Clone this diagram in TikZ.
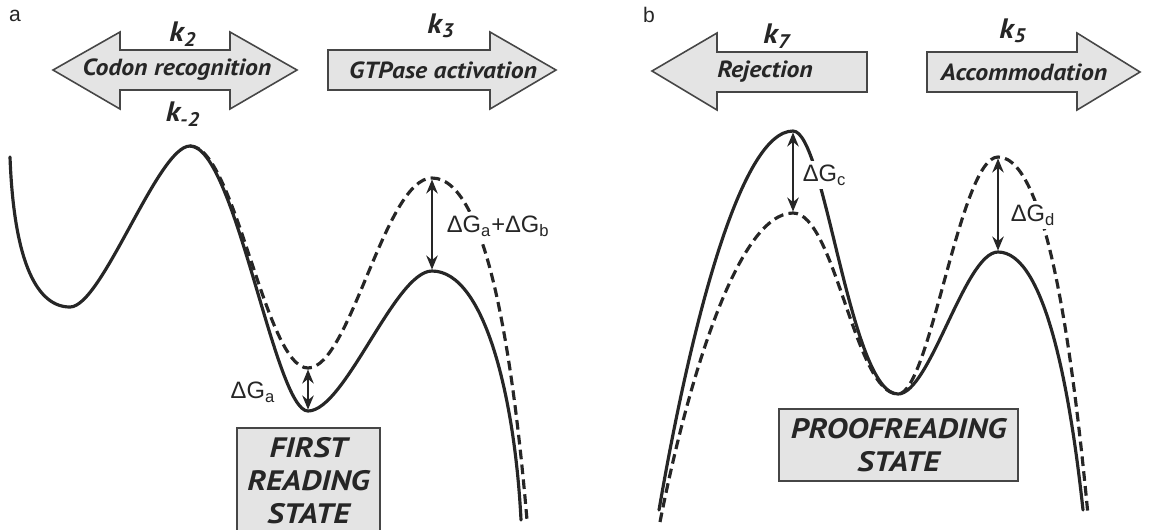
\documentclass[tikz,border=0pt]{standalone}
\usepackage{fontspec}
\setmainfont{Liberation Sans}
\newfontfamily\stepfam{PT Sans}[FakeStretch=1.1]
\newfontfamily\statefam{PT Sans}[FakeStretch=1.15]
\usetikzlibrary{arrows.meta}
\definecolor{inkgray}{RGB}{38,38,38}
\definecolor{edgegray}{RGB}{70,70,70}
\definecolor{fillgray}{RGB}{228,228,228}
\tikzset{
  energy/.style={line width=1.8pt, color=inkgray, line cap=round},
  dashenergy/.style={line width=1.8pt, color=inkgray, dash pattern=on 5.5pt off 3pt},
  bigarrow/.style={draw=edgegray, fill=fillgray, line width=0.9pt},
  steptext/.style={font=\stepfam\bfseries\itshape\fontsize{13.3}{15}\selectfont, text=inkgray},
  ratetext/.style={font=\stepfam\bfseries\itshape\fontsize{16}{18}\selectfont, text=inkgray},
  statebox/.style={rectangle, draw=edgegray, fill=fillgray, line width=1.1pt, align=center,
    font=\statefam\bfseries\itshape\fontsize{16}{18.8}\selectfont, text=inkgray},
  gaparrow/.style={{Stealth[length=8pt,width=6.5pt]}-{Stealth[length=8pt,width=6.5pt]},
    line width=1.5pt, color=inkgray, shorten >=0.8pt, shorten <=0.8pt},
  gaptext/.style={font=\fontsize{13.5}{16}\selectfont, text=inkgray, fill=white, inner sep=2pt},
  paneltext/.style={font=\fontsize{12}{14}\selectfont, text=inkgray}
}
\begin{document}
\begin{tikzpicture}[x=0.02cm, y=-0.02cm]
  \useasboundingbox (0,0) rectangle (1158,529);
  % panel letters
  \node[paneltext] (pa) at (15,16) {a};
  \node[paneltext] (pb) at (649,15) {b};

  % step arrows, panel a
  \draw[bigarrow] (53,70) -- (120,32) -- (120,50) -- (230,50) -- (230,32) -- (297,70)
    -- (230,109) -- (230,90) -- (120,90) -- (120,109) -- cycle;
  \draw[bigarrow] (328,50) -- (490,50) -- (490,32) -- (556,70) -- (490,109) -- (490,90) -- (328,90) -- cycle;
  \node[steptext] (codon) at (177,70) {Codon recognition};
  \node[steptext] (gtpase) at (443,70) {GTPase activation};
  \node[ratetext] (k2) at (183,34) {k\textsubscript{2}};
  \node[ratetext] (km2) at (183,114) {k\textsubscript{-2}};
  \node[ratetext] (k3) at (441,26) {k\textsubscript{3}};

  % step arrows, panel b
  \draw[bigarrow] (652,71) -- (717,33) -- (717,52) -- (867,52) -- (867,92) -- (717,92) -- (717,110) -- cycle;
  \draw[bigarrow] (927,52) -- (1077,52) -- (1077,33) -- (1140,72) -- (1077,110) -- (1077,92) -- (927,92) -- cycle;
  \node[steptext] (reject) at (765,72) {Rejection};
  \node[steptext] (accom) at (1024,72) {Accommodation};
  \node[ratetext] (k7) at (777,36) {k\textsubscript{7}};
  \node[ratetext] (k5) at (1013,31) {k\textsubscript{5}};

  % extrema of the profiles
  \coordinate (aTop) at (190,146);
  \coordinate (aLow) at (308,411);
  \coordinate (aLowD) at (308,368);
  \coordinate (aTS) at (432,271);
  \coordinate (aTSD) at (432,178);
  \coordinate (bTS) at (793,131);
  \coordinate (bTSD) at (793,213);
  \coordinate (bLow) at (898,394);
  \coordinate (bTop) at (998,252);
  \coordinate (bTopD) at (998,157);

  % free energy profiles
  \draw[energy] (10,157) .. controls (14,265) and (38,307) .. (70,307)
    .. controls (102,307) and (158,146) .. (aTop)
    .. controls (235,146) and (275,411) .. (aLow)
    .. controls (345,411) and (395,271) .. (aTS)
    .. controls (485,271) and (515,400) .. (521,520);
  \draw[dashenergy] (aTop) .. controls (235,146) and (265,368) .. (aLowD)
    .. controls (350,368) and (385,178) .. (aTSD)
    .. controls (490,178) and (515,380) .. (527,520);
  \draw[energy] (659,510) .. controls (690,330) and (740,131) .. (bTS)
    .. controls (825,131) and (850,394) .. (bLow)
    .. controls (930,394) and (965,252) .. (bTop)
    .. controls (1045,252) and (1070,390) .. (1083,510);
  \draw[dashenergy] (660,522) .. controls (690,370) and (740,213) .. (bTSD)
    .. controls (835,213) and (855,394) .. (bLow)
    .. controls (930,394) and (960,157) .. (bTopD)
    .. controls (1050,157) and (1075,380) .. (1088,515);

  % energy differences
  \node[gaptext, anchor=east] (dGa) at (279,392) {ΔG\textsubscript{a}};
  \node[gaptext, anchor=west] (dGab) at (443,226) {ΔG\textsubscript{a}+ΔG\textsubscript{b}};
  \node[gaptext, anchor=west] (dGc) at (799,175) {ΔG\textsubscript{c}};
  \node[gaptext, anchor=west] (dGd) at (1007,215) {ΔG\textsubscript{d}};
  \draw[gaparrow] (aLowD) -- (aLow);
  \draw[gaparrow] (aTSD) -- (aTS);
  \draw[gaparrow] (bTS) -- (bTSD);
  \draw[gaparrow] (bTopD) -- (bTop);

  % states
  \node[statebox, minimum width=2.86cm, minimum height=2.12cm, anchor=north] (first) at (308.5,427)
    {FIRST\\READING\\STATE};
  \node[statebox, minimum width=4.78cm, minimum height=1.44cm] (proof) at (898.5,445)
    {PROOFREADING\\STATE};
\end{tikzpicture}
\end{document}
